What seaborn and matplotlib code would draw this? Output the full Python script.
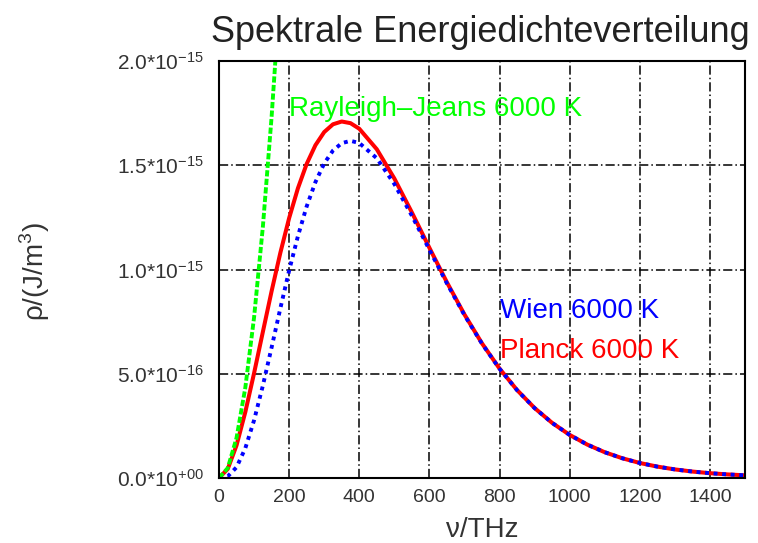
import matplotlib
matplotlib.use("Agg")
import matplotlib.pyplot as plt
import seaborn as sns
import pandas as pd

# frequency grid (THz)
nu = [0, 25, 50, 75, 100, 125, 150, 175, 200, 225, 250, 275, 300, 325, 350, 375, 400,
      450, 500, 550, 600, 650, 700, 750, 800, 850, 900, 950, 1000, 1050, 1100, 1150,
      1200, 1250, 1300, 1350, 1400, 1450, 1500]
# energy density in units of 1e-15 J/m^3
planck = [0, 0.0435, 0.1566, 0.316, 0.5026, 0.7001, 0.896, 1.0805, 1.2466, 1.3894, 1.5064,
          1.5962, 1.6592, 1.6964, 1.7098, 1.7019, 1.6751, 1.5767, 1.4365, 1.2738, 1.1040,
          0.9383, 0.7841, 0.6457, 0.5249, 0.4218, 0.3355, 0.2644, 0.2067, 0.1604, 0.1236,
          0.0947, 0.0721, 0.0546, 0.0412, 0.0309, 0.0231, 0.0172, 0.0128]
wien = [0, 0.0079, 0.0516, 0.1426, 0.2768, 0.4426, 0.626, 0.814, 0.995, 1.1597, 1.3025,
        1.4193, 1.5087, 1.5704, 1.6059, 1.6171, 1.6068, 1.5336, 1.4102, 1.2581, 1.0949,
        0.9332, 0.7812, 0.6441, 0.524, 0.4213, 0.3352, 0.2643, 0.2066, 0.1604, 0.1236,
        0.0947, 0.0721, 0.0546, 0.0412, 0.0309, 0.0231, 0.0172, 0.0128]
nu_rj = [0, 25, 50, 75, 100, 125, 150, 175, 200]
rayleigh_jeans = [0, 0.0481, 0.1925, 0.433, 0.770, 1.203, 1.732, 2.358, 3.08]

x_ticks = [0, 200, 400, 600, 800, 1000, 1200, 1400]
y_ticks = [0, 0.5, 1.0, 1.5, 2.0]
y_tick_labels = [r"$\mathregular{0.0{*}10^{+00}}$", r"$\mathregular{5.0{*}10^{-16}}$",
                 r"$\mathregular{1.0{*}10^{-15}}$", r"$\mathregular{1.5{*}10^{-15}}$",
                 r"$\mathregular{2.0{*}10^{-15}}$"]

title = "Spektrale Energiedichteverteilung"
labels = {"rj": "Rayleigh\u2013Jeans 6000 K", "wien": "Wien 6000 K", "planck": "Planck 6000 K"}

df = pd.DataFrame({"nu": nu, "planck": planck, "wien": wien})
df_rj = pd.DataFrame({"nu": nu_rj, "rj": rayleigh_jeans})

sns.set_style("white")
plt.rcParams["font.family"] = ["Liberation Sans", "DejaVu Sans"]
plt.rcParams["mathtext.fontset"] = "custom"
plt.rcParams["mathtext.rm"] = "Liberation Sans"

fig = plt.figure(figsize=(7.58, 5.43), dpi=100)
ax = fig.add_axes([219 / 758, 1 - 478 / 543, (745 - 219) / 758, (478 - 61) / 543])

sns.lineplot(data=df, x="nu", y="planck", ax=ax, color="#ff0000", linewidth=2.9,
             solid_capstyle="butt")
sns.lineplot(data=df, x="nu", y="wien", ax=ax, color="#0000ff", linewidth=2.8,
             linestyle=(0, (1, 1.2)))
sns.lineplot(data=df_rj, x="nu", y="rj", ax=ax, color="#00ff00", linewidth=2.8,
             linestyle=(0, (1.6, 0.6)))

ax.set_xlim(0, 1500)
ax.set_ylim(0, 2.0)
ax.set_xticks(x_ticks)
ax.set_xticklabels([str(v) for v in x_ticks])
ax.set_yticks(y_ticks)
ax.set_yticklabels(y_tick_labels)
ax.tick_params(axis="both", direction="in", length=6, width=1.2, labelsize=14, pad=8,
               colors="black")
ax.tick_params(axis="y", labelsize=15, pad=11, labelcolor="#333333")
ax.tick_params(axis="x", labelcolor="#333333")

ax.grid(True, color="black", linestyle=(0, (6, 2, 1, 2)), linewidth=1.1)
for s in ax.spines.values():
    s.set_color("black")
    s.set_linewidth(1.5)

ax.set_xlabel("\u03bd/THz", fontsize=20, color="#333333", labelpad=8)
fig.text(35 / 758, 1 - 272 / 543, "\u03c1/(J/m$^3$)", fontsize=20, color="#333333",
         rotation=90, ha="center", va="center")
ax.set_ylabel("")

fig.text(480 / 758, 1 - 32 / 543, title, fontsize=26, color="#222222",
         ha="center", va="center")

ax.text(200, 1.77, labels["rj"], color="#00ff00", fontsize=20, ha="left", va="center")
ax.text(800, 0.80, labels["wien"], color="#0000ff", fontsize=20, ha="left", va="center")
ax.text(800, 0.61, labels["planck"], color="#ff0000", fontsize=20, ha="left", va="center")

fig.savefig("out.png", dpi=100)
